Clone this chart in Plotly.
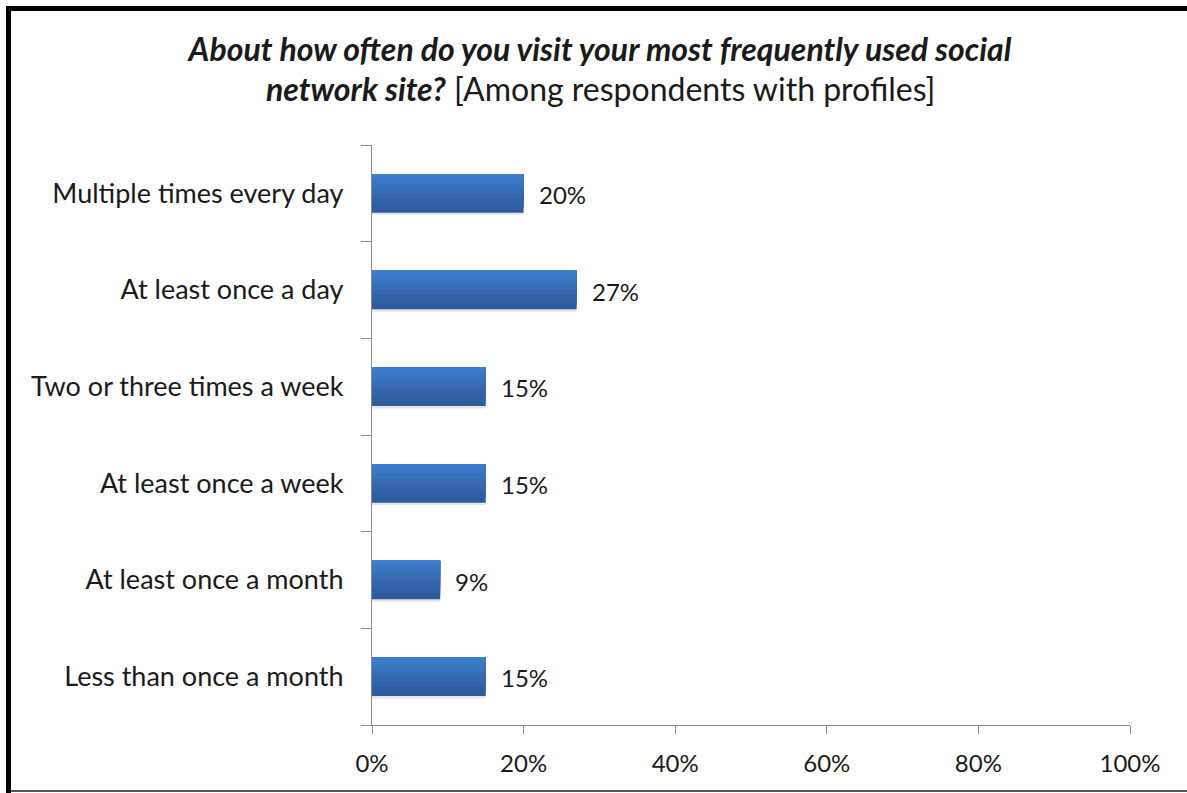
import plotly.graph_objects as go

# Survey responses: frequency of visiting the most used social network site
categories = [
    "Multiple times every day",
    "At least once a day",
    "Two or three times a week",
    "At least once a week",
    "At least once a month",
    "Less than once a month",
]
shares = [20, 27, 15, 15, 9, 15]
x_ticks = [0, 20, 40, 60, 80, 100]
x_tick_labels = ["0%", "20%", "40%", "60%", "80%", "100%"]

W, H = 1187, 793
L, R, T, B = 372, 57, 145, 68
PW, PH = W - L - R, H - T - B

FONT = "Lato"
TEXT = "#1a1a1a"

BAR_W = 0.4
# vertical shading of the bars, top (light) to bottom (dark)
shade = ["#3d7cca", "#3a77c3", "#3872bc", "#366db5", "#3468ae",
         "#3263a7", "#305fa1", "#2e5b9b"]
n = len(shade)
band = BAR_W / n

fig = go.Figure()
# soft drop shadow
fig.add_trace(go.Bar(
    x=shares, y=categories, orientation="h",
    width=BAR_W, offset=-BAR_W / 2 - 0.025,
    marker=dict(color="rgba(0,0,0,0.10)", line=dict(width=0)),
    hoverinfo="skip",
))
# each layer spans from its own lower edge up to the bar top; drawn darkest first
for k in range(n - 1, -1, -1):
    fig.add_trace(go.Bar(
        x=shares, y=categories, orientation="h",
        width=(k + 1) * band, offset=BAR_W / 2 - (k + 1) * band,
        marker=dict(color=shade[k], line=dict(width=0)),
        hoverinfo="skip",
    ))

# value labels to the right of each bar
for cat, v in zip(categories, shares):
    fig.add_annotation(
        x=v, y=cat, text=f"{v}%", showarrow=False,
        xanchor="left", xshift=13, yshift=-1,
        font=dict(family=FONT, size=24, color=TEXT),
    )

def px_x(p):
    return (p - L) / PW

def px_y(p):
    return (H - B - p) / PH

# second line of the heading
fig.add_annotation(
    xref="paper", yref="paper", x=px_x(600), y=px_y(88),
    xanchor="center", yanchor="middle", showarrow=False,
    text="<b><i>network site?</i></b> [Among respondents with profiles]",
    font=dict(family=FONT, size=32, color=TEXT),
)

# frame: heavy left/top edge, light bottom edge
fig.add_shape(type="line", xref="paper", yref="paper",
              x0=px_x(8.5), x1=px_x(8.5), y0=px_y(6), y1=px_y(H),
              line=dict(color="black", width=5))
fig.add_shape(type="line", xref="paper", yref="paper",
              x0=px_x(6), x1=px_x(W), y0=px_y(8.5), y1=px_y(8.5),
              line=dict(color="black", width=5))
fig.add_shape(type="line", xref="paper", yref="paper",
              x0=px_x(11), x1=px_x(W), y0=px_y(791), y1=px_y(791),
              line=dict(color="#555555", width=2))

fig.update_layout(
    width=W, height=H,
    margin=dict(l=L, r=R, t=T, b=B, pad=0),
    paper_bgcolor="white",
    plot_bgcolor="white",
    showlegend=False,
    barmode="overlay",
    title=dict(
        text="<b><i>About how often do you visit your most frequently used social</i></b>",
        x=600 / W, xref="container", xanchor="center",
        y=1 - 50 / H, yanchor="middle",
        font=dict(family=FONT, size=32, color=TEXT),
    ),
    xaxis=dict(
        range=[0, 100],
        tickmode="array", tickvals=x_ticks, ticktext=x_tick_labels,
        showgrid=False, zeroline=False,
        showline=True, linecolor="#8c8c8c", linewidth=1.2,
        ticks="outside", ticklen=8, tickcolor="#8c8c8c", tickwidth=1.2,
        tickfont=dict(family=FONT, size=24, color=TEXT),
        ticklabelstandoff=9,
        fixedrange=True,
    ),
    yaxis=dict(
        categoryorder="array", categoryarray=categories[::-1],
        showgrid=False, zeroline=False,
        showline=True, linecolor="#8c8c8c", linewidth=1.2,
        ticks="outside", tickson="boundaries", ticklen=10,
        tickcolor="#8c8c8c", tickwidth=1.2,
        tickfont=dict(family=FONT, size=27, color=TEXT),
        ticklabelstandoff=22,
        fixedrange=True,
    ),
)

fig.write_html("out.html", config={"displayModeBar": False})
